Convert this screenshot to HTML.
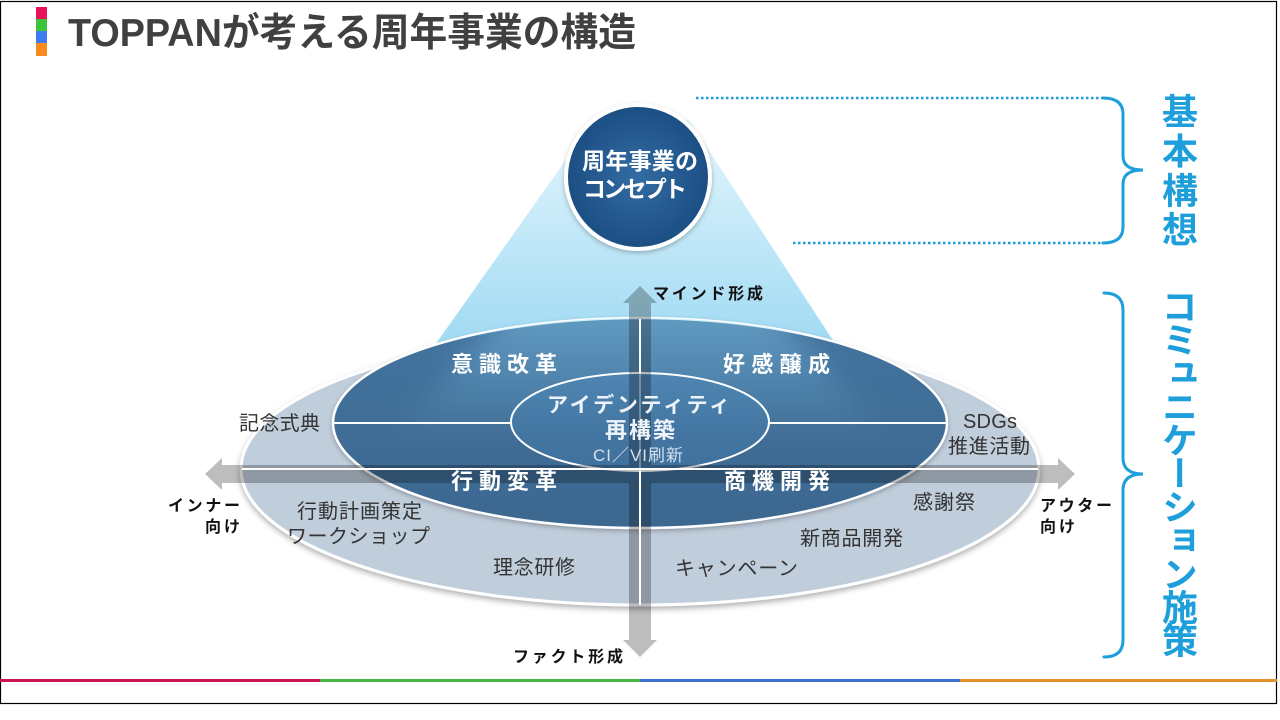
<!DOCTYPE html>
<html><head><meta charset="utf-8">
<style>
html,body{margin:0;padding:0;background:#fff;}
body{width:1280px;height:720px;position:relative;overflow:hidden;}
svg{position:absolute;left:0;top:0;}
.jp{font-family:"Liberation Sans","Noto Sans CJK JP",sans-serif;}
.b{font-weight:bold;}
.lbl{font-size:20px;fill:#333;}
.blk{font-size:16px;fill:#111;font-weight:bold;}
.wh{font-size:22px;fill:#fff;font-weight:bold;}
.v{position:absolute;writing-mode:vertical-rl;font-family:"Noto Sans CJK JP",sans-serif;font-weight:bold;color:#1e9fdb;font-size:36px;line-height:36px;width:36px;white-space:nowrap;}
.mul{mix-blend-mode:multiply;}
</style></head><body>
<svg width="1280" height="720" viewBox="0 0 1280 720">
<defs>
  <linearGradient id="cone" x1="0" y1="150" x2="0" y2="345" gradientUnits="userSpaceOnUse">
    <stop offset="0" stop-color="#dcf3fc"/>
    <stop offset="1" stop-color="#a0daf3"/>
  </linearGradient>
  <linearGradient id="coneOv" x1="0" y1="318" x2="0" y2="440" gradientUnits="userSpaceOnUse">
    <stop offset="0" stop-color="#8fd3f5" stop-opacity="0.4"/>
    <stop offset="1" stop-color="#8fd3f5" stop-opacity="0"/>
  </linearGradient>
  <linearGradient id="mid" x1="0" y1="318" x2="0" y2="528" gradientUnits="userSpaceOnUse">
    <stop offset="0" stop-color="#43749f"/>
    <stop offset="1" stop-color="#3c678f"/>
  </linearGradient>
  <radialGradient id="circ" cx="0.5" cy="0.5" r="0.5">
    <stop offset="0" stop-color="#336ca3"/>
    <stop offset="1" stop-color="#1c4f84"/>
  </radialGradient>
  <clipPath id="midclip"><ellipse cx="640" cy="423" rx="307" ry="105"/></clipPath>
  <filter id="sh" x="-10%" y="-10%" width="120%" height="130%">
    <feDropShadow dx="0" dy="3" stdDeviation="3" flood-color="#000" flood-opacity="0.3"/>
  </filter>
  <filter id="sh2" x="-10%" y="-10%" width="120%" height="130%">
    <feDropShadow dx="0" dy="2" stdDeviation="2.5" flood-color="#000" flood-opacity="0.25"/>
  </filter>
  <filter id="blur" x="-20%" y="-20%" width="140%" height="140%">
    <feGaussianBlur stdDeviation="14"/>
  </filter>
</defs>

<!-- frame -->
<rect x="0.5" y="1.5" width="1276" height="702" fill="none" stroke="#000" stroke-width="1.2"/>

<!-- title squares -->
<rect x="36" y="7" width="11" height="12" fill="#e8125a"/>
<rect x="36" y="19" width="11" height="12" fill="#3dc43d"/>
<rect x="36" y="31" width="11" height="12" fill="#3f7bf2"/>
<rect x="36" y="43" width="11" height="13" fill="#f88b1c"/>
<text class="jp b" x="68" y="46" font-size="39" fill="#404040" textLength="568" lengthAdjust="spacingAndGlyphs">TOPPANが考える周年事業の構造</text>

<!-- bottom color bar -->
<rect x="0" y="679" width="320" height="3" fill="#c8174f"/>
<rect x="320" y="679" width="320" height="3" fill="#48b53f"/>
<rect x="640" y="679" width="320" height="3" fill="#3f6fcf"/>
<rect x="960" y="679" width="317" height="3" fill="#e6902a"/>

<!-- cone -->
<polygon points="594,120 689,120 836,345 435,345" fill="url(#cone)"/>

<!-- outer ellipse -->
<ellipse cx="640" cy="469" rx="399" ry="136" fill="#c0cddb" stroke="#fff" stroke-width="3" filter="url(#sh)"/>
<!-- middle ellipse -->
<ellipse cx="640" cy="423" rx="307" ry="105" fill="url(#mid)" stroke="#fff" stroke-width="2.5" filter="url(#sh2)"/>
<g clip-path="url(#midclip)">
  <polygon points="560,250 720,250 880,430 400,430" fill="url(#coneOv)" filter="url(#blur)"/>
</g>
<!-- inner ellipse -->
<ellipse cx="640" cy="422" rx="129" ry="49" fill="#4a86b8" fill-opacity="0.3" stroke="#fff" stroke-width="2"/>

<!-- arrows -->
<g class="mul" fill="#bdbdbd">
  <path d="M205,474 L222,458 L222,465 L1058,465 L1058,458 L1075,474 L1058,490 L1058,483 L222,483 L222,490 Z"/>
  <path d="M640,286 L657,303 L651,303 L651,640 L657,640 L640,657 L623,640 L629,640 L629,303 L623,303 Z"/>
</g>

<!-- white lines -->
<g stroke="#fff" stroke-width="2" fill="none">
  <line x1="242" y1="469" x2="1038" y2="469"/>
  <line x1="334" y1="423" x2="511" y2="423"/>
  <line x1="769" y1="423" x2="946" y2="423"/>
  <line x1="640" y1="319" x2="640" y2="373"/>
  <line x1="640" y1="471" x2="640" y2="605"/>
  <line x1="640" y1="373" x2="640" y2="471" stroke-opacity="0.3"/>
</g>

<!-- concept circle -->
<circle cx="638" cy="177" r="74" fill="#fff" filter="url(#sh2)"/>
<circle cx="638" cy="177" r="70" fill="url(#circ)"/>
<text class="jp b" x="582" y="169" font-size="23" fill="#fff" textLength="116" lengthAdjust="spacing">周年事業の</text>
<text class="jp b" x="583" y="197" font-size="23" fill="#fff" textLength="104" lengthAdjust="spacing">コンセプト</text>

<!-- axis labels -->
<text class="jp blk" x="653" y="299" textLength="110" lengthAdjust="spacing">マインド形成</text>
<text class="jp blk" x="513" y="662" textLength="110" lengthAdjust="spacing">ファクト形成</text>
<text class="jp blk" x="168" y="511" textLength="72" lengthAdjust="spacing">インナー</text>
<text class="jp blk" x="205" y="532" textLength="35" lengthAdjust="spacing">向け</text>
<text class="jp blk" x="1040" y="511" textLength="72" lengthAdjust="spacing">アウター</text>
<text class="jp blk" x="1040" y="532" textLength="35" lengthAdjust="spacing">向け</text>

<!-- quadrant labels -->
<text class="jp wh" x="451" y="372" textLength="106" lengthAdjust="spacing">意識改革</text>
<text class="jp wh" x="723" y="372" textLength="107" lengthAdjust="spacing">好感醸成</text>
<text class="jp wh" x="451" y="489" textLength="106" lengthAdjust="spacing">行動変革</text>
<text class="jp wh" x="724" y="489" textLength="106" lengthAdjust="spacing">商機開発</text>

<!-- inner labels -->
<text class="jp b" x="547" y="412" font-size="21" fill="#eef4fa" textLength="183" lengthAdjust="spacing">アイデンティティ</text>
<text class="jp b" x="605" y="438" font-size="22" fill="#eef4fa" textLength="70" lengthAdjust="spacing">再構築</text>
<text class="jp" x="593" y="461" font-size="17" fill="#d4e0ec" textLength="90" lengthAdjust="spacing">CI／VI刷新</text>

<!-- outer labels -->
<text class="jp lbl" x="239" y="430" textLength="81" lengthAdjust="spacing">記念式典</text>
<text class="jp lbl" x="297" y="518" textLength="125" lengthAdjust="spacing">行動計画策定</text>
<text class="jp lbl" x="287" y="543" textLength="143" lengthAdjust="spacing">ワークショップ</text>
<text class="jp lbl" x="493" y="574" textLength="82" lengthAdjust="spacing">理念研修</text>
<text class="jp lbl" x="963" y="428" textLength="54" lengthAdjust="spacing">SDGs</text>
<text class="jp lbl" x="948" y="453" textLength="82" lengthAdjust="spacing">推進活動</text>
<text class="jp lbl" x="913" y="509" textLength="62" lengthAdjust="spacing">感謝祭</text>
<text class="jp lbl" x="800" y="545" textLength="103" lengthAdjust="spacing">新商品開発</text>
<text class="jp lbl" x="675" y="575" textLength="123" lengthAdjust="spacing">キャンペーン</text>

<!-- dotted lines -->
<g stroke="#1e9fdb" stroke-width="2.5" stroke-dasharray="2.5 2.5" fill="none">
  <line x1="696" y1="98" x2="1104" y2="98"/>
  <line x1="793" y1="243" x2="1104" y2="243"/>
</g>
<!-- braces -->
<g stroke="#1e9fdb" stroke-width="3" fill="none" stroke-linecap="round">
  <path d="M1103,98 Q1123,98 1123,114 L1123,156 Q1123,170 1143,170 Q1123,170 1123,184 L1123,227 Q1123,243 1103,243"/>
  <path d="M1104,293 Q1123,293 1123,310 L1123,458 Q1123,474 1143,474 Q1123,474 1123,490 L1123,640 Q1123,657 1104,657"/>
</g>
</svg>
<div class="v" style="left:1162px;top:93px;letter-spacing:3.3px;">基本構想</div>
<div class="v" style="left:1162px;top:288px;letter-spacing:-2.6px;">コミュニケーション施策</div>
</body></html>
